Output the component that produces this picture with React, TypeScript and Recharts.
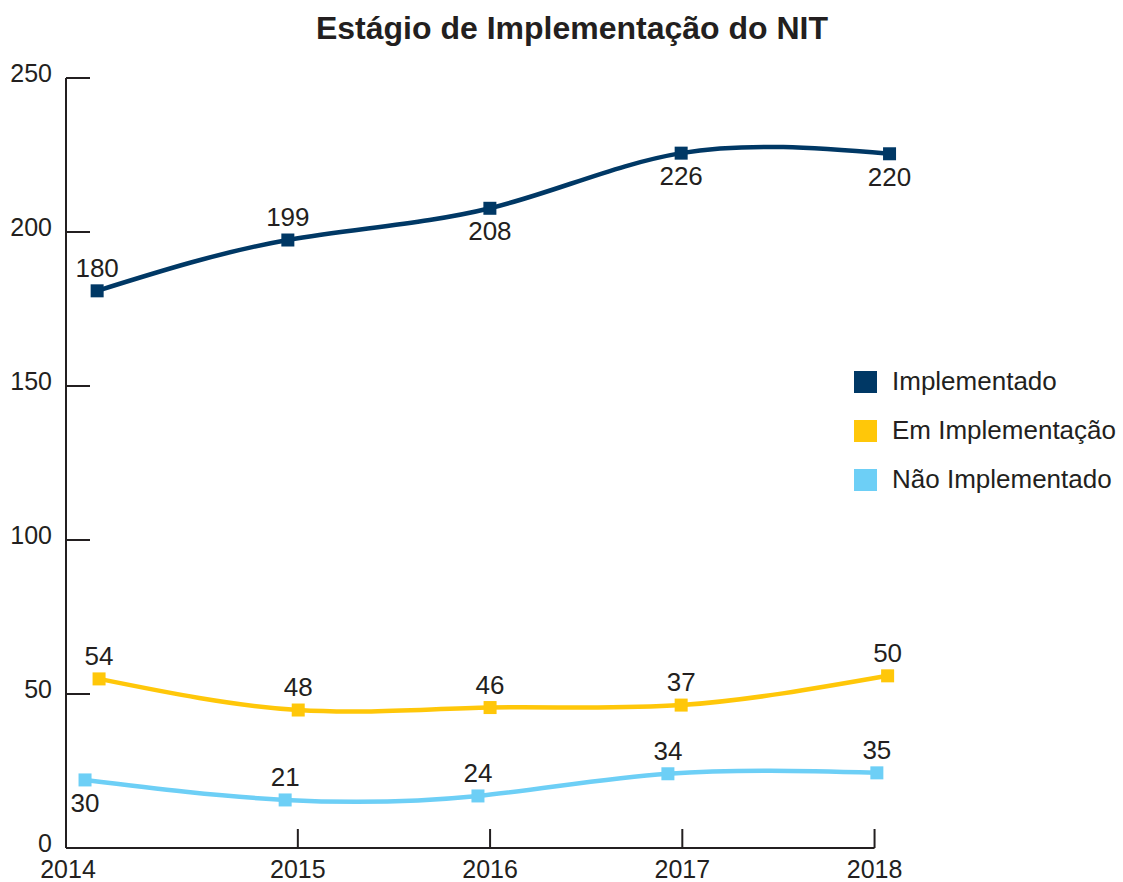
import React from "react";
import { LineChart, Line, XAxis, YAxis, ReferenceLine, LabelList } from "recharts";

const FONT = '"Liberation Sans", Arial, Helvetica, sans-serif';
const INK = "#231f20";

// categories and axis ticks
const categories = ["2014", "2015", "2016", "2017", "2018"];
const xTicks = [2013.794, 2015, 2016, 2017, 2018];
const yTicks = [0, 50, 100, 150, 200, 250];

// Implementado
const implX = [2013.956, 2014.948, 2015.999, 2016.994, 2018.078];
const implY = [180.9, 197.4, 207.7, 225.6, 225.4];
const implLabels = ["180", "199", "208", "226", "220"];
const implSide = ["top", "top", "bottom", "bottom", "bottom"];

// Em Implementação
const emX = [2013.966, 2015.002, 2016.0, 2016.994, 2018.068];
const emY = [54.9, 44.8, 45.6, 46.4, 55.9];
const emLabels = ["54", "48", "46", "37", "50"];
const emSide = ["top", "top", "top", "top", "top"];

// Não Implementado
const naoX = [2013.893, 2014.934, 2015.937, 2016.925, 2018.012];
const naoY = [22.1, 15.6, 16.9, 24.1, 24.4];
const naoLabels = ["30", "21", "24", "34", "35"];
const naoSide = ["bottom", "top", "top", "top", "top"];

const series = [
  { name: "Implementado", color: "#003865", xs: implX, ys: implY, labels: implLabels, side: implSide },
  { name: "Em Implementação", color: "#ffc709", xs: emX, ys: emY, labels: emLabels, side: emSide },
  { name: "Não Implementado", color: "#6dcff6", xs: naoX, ys: naoY, labels: naoLabels, side: naoSide },
];

const build = (s: (typeof series)[number]) =>
  s.xs.map((x, i) => ({ x, y: s.ys[i], label: s.labels[i], side: s.side[i] }));

function XTick(props: any) {
  const { x, y, index } = props;
  return (
    <g>
      {index > 0 && <line x1={x} x2={x} y1={y} y2={y - 19} stroke={INK} strokeWidth={2} />}
      <text
        x={index === 0 ? x + 2 : x}
        y={y + 21}
        textAnchor="middle"
        dominantBaseline="central"
        fontFamily={FONT}
        fontSize={25}
        fill={INK}
      >
        {categories[index]}
      </text>
    </g>
  );
}

function YTick(props: any) {
  const { x, y, payload } = props;
  return (
    <g>
      {payload.value > 0 && <line x1={x} x2={x + 24} y1={y} y2={y} stroke={INK} strokeWidth={2} />}
      <text
        x={x - 14}
        y={y - 5}
        textAnchor="end"
        dominantBaseline="central"
        fontFamily={FONT}
        fontSize={25}
        fill={INK}
      >
        {payload.value}
      </text>
    </g>
  );
}

const renderDot = (color: string) => (p: any) => (
  <rect key={`d-${p.index}`} x={p.cx - 6.5} y={p.cy - 6.5} width={13} height={13} fill={color} />
);

const renderLabel = (data: any[]) => (p: any) => {
  const d = data[p.index];
  if (!d) return null;
  const dy = d.side === "top" ? -23 : 23;
  return (
    <text
      key={`l-${p.index}`}
      x={p.x}
      y={p.y + dy}
      textAnchor="middle"
      dominantBaseline="central"
      fontFamily={FONT}
      fontSize={26}
      fill={INK}
    >
      {d.label}
    </text>
  );
};

export default function App() {
  return (
    <div style={{ position: "absolute", left: 0, top: 0, width: 1123, height: 882, background: "#fff" }}>
      <div
        style={{
          position: "absolute",
          left: 0,
          width: 1144,
          top: 10,
          textAlign: "center",
          fontFamily: FONT,
          fontWeight: "bold",
          fontSize: 32,
          color: INK,
        }}
      >
        Estágio de Implementação do NIT
      </div>
      <LineChart width={1123} height={882} margin={{ top: 78, right: 210, left: 6, bottom: 4 }}>
        <XAxis
          dataKey="x"
          type="number"
          domain={[2013.794, 2018.2]}
          ticks={xTicks}
          tick={<XTick />}
          axisLine={false}
          tickLine={false}
          tickSize={0}
          tickMargin={0}
          height={30}
          allowDuplicatedCategory={false}
        />
        <YAxis
          type="number"
          domain={[0, 250]}
          ticks={yTicks}
          tick={<YTick />}
          axisLine={{ stroke: INK, strokeWidth: 2 }}
          tickLine={false}
          tickSize={0}
          tickMargin={0}
          width={60}
        />
        <ReferenceLine
          segment={[
            { x: 2013.794, y: 0 },
            { x: 2018, y: 0 },
          ]}
          stroke={INK}
          strokeWidth={2}
        />
        {series.map((s) => {
          const data = build(s);
          return (
            <Line
              key={s.name}
              data={data}
              dataKey="y"
              name={s.name}
              type="natural"
              stroke={s.color}
              strokeWidth={4.5}
              dot={renderDot(s.color)}
              activeDot={false}
              isAnimationActive={false}
            >
              <LabelList dataKey="label" content={renderLabel(data)} />
            </Line>
          );
        })}
      </LineChart>
      <div style={{ position: "absolute", left: 854, top: 357, fontFamily: FONT, fontSize: 26, color: INK }}>
        {series.map((s) => (
          <div key={s.name} style={{ display: "flex", alignItems: "center", height: 49 }}>
            <div style={{ width: 23, height: 22, background: s.color, marginRight: 15 }} />
            <span>{s.name}</span>
          </div>
        ))}
      </div>
    </div>
  );
}
